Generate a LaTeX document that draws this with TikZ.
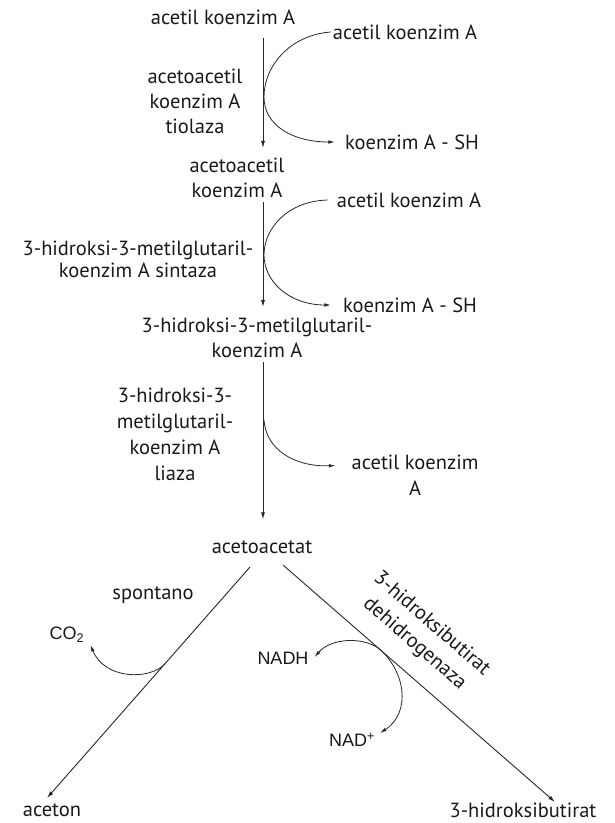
\documentclass[tikz,border=0pt]{standalone}
\usepackage{fontspec}
\setmainfont{PT Sans}
\newfontfamily\cofont{Liberation Sans}
\usetikzlibrary{arrows.meta, positioning, calc}

\begin{document}
\begin{tikzpicture}[x=1pt, y=-1pt,
  txt/.style={font=\fontsize{20.5}{25}\selectfont, inner sep=1pt, align=center, text=black!90},
  cof/.style={font=\cofont\fontsize{18}{20}\selectfont, inner sep=1pt, text=black!90},
  rxn/.style={draw=black!85, line width=0.9pt, -{Latex[length=7pt, width=4pt]}},
  side/.style={draw=black!85, line width=0.8pt, -{Latex[length=6.5pt, width=3.6pt]}}]
\useasboundingbox (0,0) rectangle (614,823);
\coordinate (ax) at (263,0);

% Main chain
\node[txt] (acoa1) at (223,17) {acetil koenzim A};
\node[txt] (aacoa) at (237,178) {acetoacetil\\koenzim A};
\node[txt] (hmg) at (257,338) {3-hidroksi-3-metilglutaril-\\koenzim A};
\node[txt] (acac) at (262,547) {acetoacetat};
\node[txt] (aceton) at (52,810) {aceton};
\node[txt] (hbut) at (523,810) {3-hidroksibutirat};

% Enzymes
\node[txt] (tiol) at (195,101) {acetoacetil\\koenzim A\\tiolaza};
\node[txt, font=\fontsize{20.5}{22}\selectfont] (sint) at (138,259) {3-hidroksi-3-metilglutaril-\\koenzim A sintaza};
\node[txt, font=\fontsize{20.5}{26}\selectfont] (liaza) at (175,434) {3-hidroksi-3-\\metilglutaril-\\koenzim A\\liaza};
\node[txt] (spont) at (153,595) {spontano};
\node[txt, rotate=-41, font=\fontsize{20.5}{26}\selectfont] (dehid) at (423,634) {3-hidroksibutirat\\dehidrogenaza};

% Side substrates and products
\node[txt] (acoa2) at (405,32) {acetil koenzim A};
\node[txt] (sh1) at (412,142) {koenzim A - SH};
\node[txt] (acoa3) at (409,200) {acetil koenzim A};
\node[txt] (sh2) at (410,305) {koenzim A - SH};
\node[txt, font=\fontsize{20.5}{26}\selectfont] (acoa4) at (415,475) {acetil koenzim\\A};
\node[cof] (co2) at (67,635) {CO\textsubscript{2}};
\node[cof] (nadh) at (283,658) {NADH};
\node[cof] (nad) at (352,740) {NAD\textsuperscript{+}};

% Vertical steps
\draw[rxn, shorten <=12pt, shorten >=9pt] (acoa1.south -| ax) -- (aacoa.north -| ax);
\draw[rxn, shorten <=3pt, shorten >=10pt] (aacoa.south -| ax) -- (hmg.north -| ax);
\draw[rxn, shorten <=3pt, shorten >=20pt] (hmg.south -| ax) -- (acac.north -| ax);

% Side reactions
\draw[side] ([xshift=-1pt]acoa2.west) .. controls (290,35) and (264,66) .. (264,97)
  .. controls (264,125) and (292,142) .. ([xshift=-9pt]sh1.west);
\draw[side] ([xshift=-8pt]acoa3.west) .. controls (288,201) and (264,228) .. (264,255)
  .. controls (264,282) and (290,305) .. ([xshift=-11pt]sh2.west);
\coordinate (c3) at (264,420);
\draw[side] (c3) .. controls (266,450) and (295,467) .. ([shift={(-15,12)}]acoa4.north west);

% Branches
\coordinate (bl) at (250,567);
\coordinate (br) at (283,565);
\coordinate (tl) at ([shift={(-5,-12)}]aceton.center);
\coordinate (tr) at ([shift={(32,-8)}]hbut.center);
\draw[rxn] (bl) -- (tl);
\draw[rxn] (br) -- (tr);

% Cofactors
\coordinate (pco) at ($(bl)!0.42!(tl)$);
\draw[side] (pco) .. controls (150,680) and (105,680) .. ([shift={(5,10)}]co2.east);
\coordinate (pnad) at ($(br)!0.35!(tr)$);
\draw[side] (pnad) .. controls (360,636) and (330,639) .. ([shift={(5,-1)}]nadh.east);
\draw[side] (pnad) .. controls (405,670) and (412,712) .. ([shift={(4,-7)}]nad.east);
\end{tikzpicture}
\end{document}
